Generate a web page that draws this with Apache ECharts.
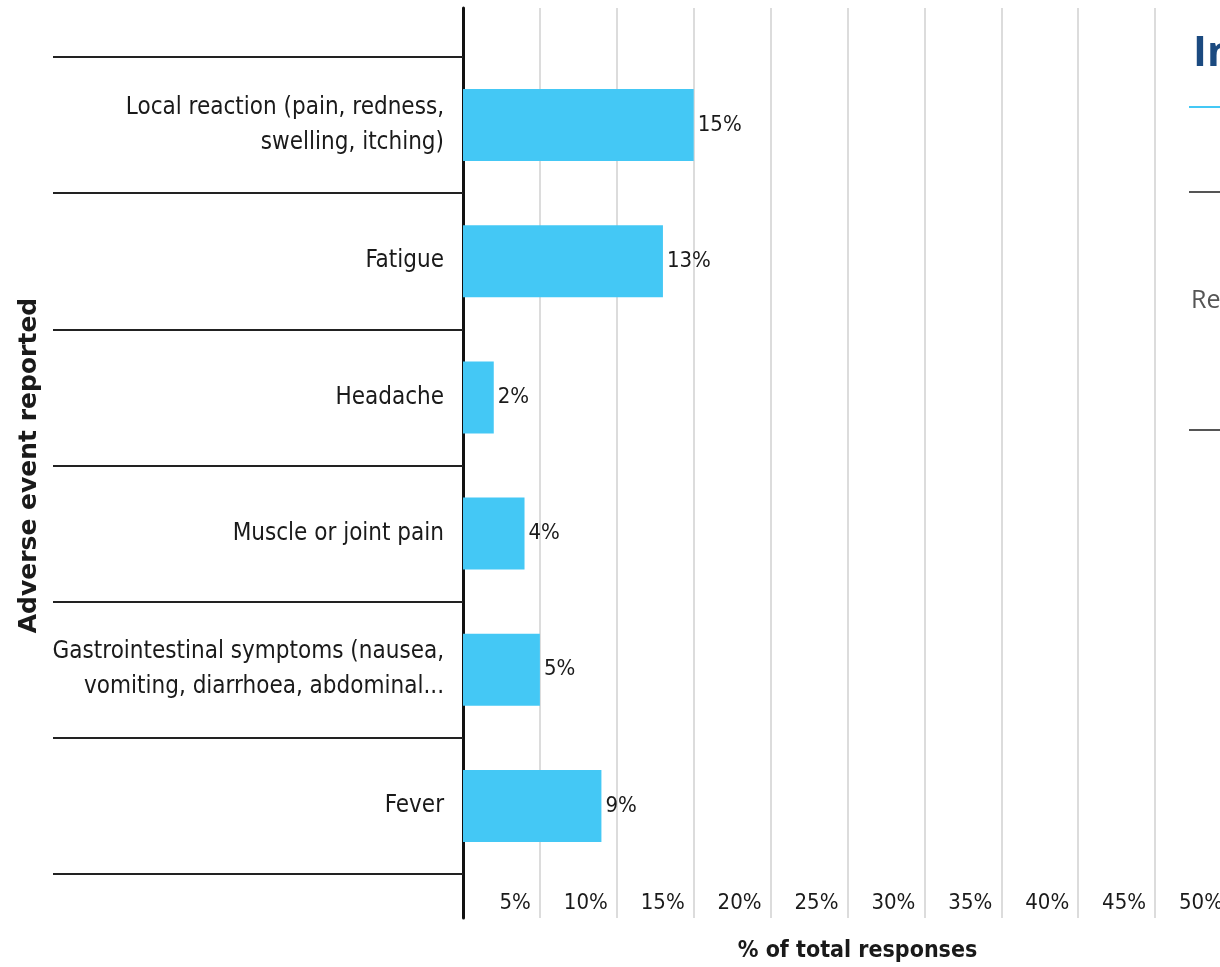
<!DOCTYPE html>
<html>
<head>
<meta charset="utf-8">
<script src="https://cdn.jsdelivr.net/npm/echarts@6/dist/echarts.min.js"></script>
<style>
  html, body { margin: 0; padding: 0; background: #fff; }
  #chart { width: 1220px; height: 967px; }
</style>
</head>
<body>
<div id="chart"></div>
<script>
// categories top to bottom
var events = [
  'Local reaction (pain, redness,\nswelling, itching)',
  'Fatigue',
  'Headache',
  'Muscle or joint pain',
  'Gastrointestinal symptoms (nausea,\nvomiting, diarrhoea, abdominal...',
  'Fever'
]
var shares = [15, 13, 2, 4, 5, 9]
var xTicks = [0, 5, 10, 15, 20, 25, 30, 35, 40, 45, 50]

var narrow = '"Liberation Sans Narrow", "DejaVu Sans Condensed", sans-serif'
var ink = '#1a1a1a'

var chart = echarts.init(document.getElementById('chart'))
chart.setOption({
  animation: false,
  grid: [
    {left: 463, width: 769, top: 57, bottom: 93, outerBoundsMode: 'none'},
    {left: 463, width: 769, top: 8, bottom: 49, outerBoundsMode: 'none'}
  ],
  xAxis: [{
    gridIndex: 0,
    type: 'value',
    min: xTicks[0],
    max: xTicks[xTicks.length - 1],
    interval: xTicks[1] - xTicks[0],
    splitLine: {show: false},
    axisLine: {show: false},
    axisTick: {show: false},
    axisLabel: {
      formatter: '{value}%',
      showMinLabel: false,
      align: 'right',
      padding: [0, 9, 0, 0],
      margin: 18,
      fontFamily: narrow,
      fontSize: 22,
      color: ink
    },
    name: '% of total responses',
    nameLocation: 'middle',
    nameGap: 66,
    nameTextStyle: {fontFamily: narrow, fontWeight: 'bold', fontSize: 23, color: ink, padding: [0, 0, 0, 20]}
  }, {
    gridIndex: 1,
    type: 'value',
    min: xTicks[0],
    max: xTicks[xTicks.length - 1],
    interval: xTicks[1] - xTicks[0],
    axisLine: {show: false},
    axisTick: {show: false},
    axisLabel: {show: false},
    splitLine: {show: true, lineStyle: {color: '#dcdcdc', width: 2}}
  }],
  yAxis: [{
    gridIndex: 0,
    type: 'category',
    data: events,
    inverse: true,
    axisLine: {show: false},
    axisTick: {show: true, interval: 0, length: 410, lineStyle: {color: '#222', width: 2}},
    axisLabel: {
      interval: 0,
      margin: 19,
      fontFamily: narrow,
      fontSize: 24,
      lineHeight: 35,
      color: ink,
      padding: [0, 0, 4, 0]
    },
    name: 'Adverse event reported',
    nameLocation: 'middle',
    nameGap: 420,
    nameRotate: 90,
    nameTextStyle: {fontFamily: '"DejaVu Sans", sans-serif', fontWeight: 'bold', fontSize: 25, color: ink}
  }, {
    gridIndex: 1,
    type: 'value',
    axisLine: {show: true, lineStyle: {color: '#111', width: 3}},
    axisTick: {show: false},
    axisLabel: {show: false},
    splitLine: {show: false}
  }],
  series: [{
    type: 'bar',
    xAxisIndex: 0,
    yAxisIndex: 0,
    data: shares,
    barWidth: 72,
    itemStyle: {color: '#44c8f5'},
    label: {
      show: true,
      position: 'right',
      distance: 4,
      formatter: '{c}%',
      fontFamily: narrow,
      fontSize: 22,
      color: ink
    }
  }],
  graphic: [
    {type: 'text', left: 1193, top: 33, style: {text: 'In', fontFamily: '"Open Sans", sans-serif', fontWeight: 'bold', fontSize: 42, fill: '#1b4a80'}},
    {type: 'rect', shape: {x: 1189, y: 106, width: 40, height: 2}, style: {fill: '#44c8f5'}},
    {type: 'rect', shape: {x: 1189, y: 191, width: 40, height: 2}, style: {fill: '#555'}},
    {type: 'text', left: 1191, top: 288, style: {text: 'Re', fontFamily: '"Open Sans", sans-serif', fontSize: 25, fill: '#555'}},
    {type: 'rect', shape: {x: 1189, y: 429, width: 40, height: 2}, style: {fill: '#555'}}
  ]
})
</script>
</body>
</html>
